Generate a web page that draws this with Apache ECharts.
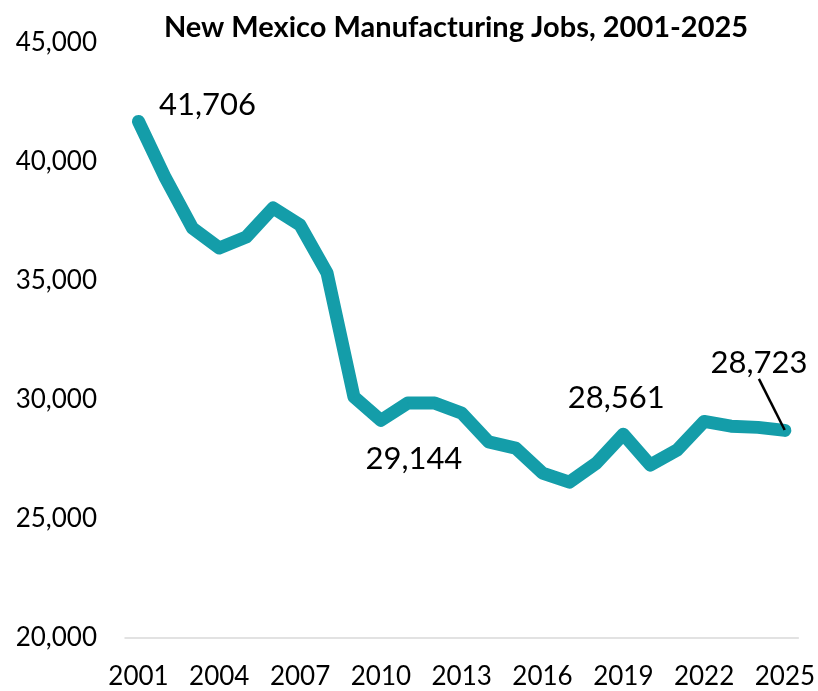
<!DOCTYPE html>
<html>
<head>
<meta charset="utf-8">
<script src="https://cdn.jsdelivr.net/npm/echarts@6/dist/echarts.min.js"></script>
<style>
  html, body { margin: 0; padding: 0; background: #fff; }
  #chart { width: 818px; height: 691px; }
</style>
</head>
<body>
<div id="chart"></div>
<script>
// Annual manufacturing employment, New Mexico
const years = ['2001','2002','2003','2004','2005','2006','2007','2008','2009','2010','2011','2012','2013',
               '2014','2015','2016','2017','2018','2019','2020','2021','2022','2023','2024','2025'];
const jobs = [41706, 39330, 37230, 36390, 36850, 38070, 37350, 35340, 30130, 29144, 29870, 29870, 29450,
              28240, 27980, 26930, 26550, 27350, 28561, 27270, 27900, 29100, 28900, 28850, 28723];
// Years whose values are written on the chart
const labeledYears = ['2001', '2010', '2019', '2025'];
const yTicks = [20000, 25000, 30000, 35000, 40000, 45000];

const fontFamily = 'Lato, "Noto Sans", sans-serif';
const teal = '#149da9';

// label placement relative to each annotated point
const labelShift = {
  '2001': { dx: 69, dy: -16 },
  '2010': { dx: 33, dy: 39 },
  '2019': { dx: -7, dy: -36 },
  '2025': { dx: -26, dy: -67 }
};

const seriesData = years.map((y, i) => {
  const item = { value: jobs[i] };
  if (labeledYears.includes(y)) {
    item.label = { show: true };
    if (y === '2025') item.labelLine = { show: true, lineStyle: { color: '#000', width: 2.5 } };
  }
  return item;
});

const fmt = v => v.toLocaleString('en-US');

const chart = echarts.init(document.getElementById('chart'), null, { renderer: 'canvas' });
chart.setOption({
  animation: false,
  backgroundColor: '#fff',
  title: {
    text: 'New Mexico Manufacturing Jobs, 2001-2025',
    left: 451, top: 8, textAlign: 'center',
    textStyle: { fontFamily, fontWeight: 'bold', fontSize: 29, color: '#000' }
  },
  grid: { left: 125, right: 16, top: 43, bottom: 53 },
  xAxis: {
    type: 'category',
    data: years,
    boundaryGap: true,
    axisLine: { lineStyle: { color: '#d9d9d9', width: 1.5 } },
    axisTick: { show: false },
    axisLabel: { interval: 2, margin: 26, fontFamily, fontSize: 26, color: '#000' },
    splitLine: { show: false }
  },
  yAxis: {
    type: 'value',
    min: yTicks[0],
    max: yTicks[yTicks.length - 1],
    interval: yTicks[1] - yTicks[0],
    axisLine: { show: false },
    axisTick: { show: false },
    splitLine: { show: false },
    axisLabel: { margin: 28, fontFamily, fontSize: 26, color: '#000', formatter: fmt }
  },
  series: [{
    type: 'line',
    data: seriesData,
    symbol: 'circle',
    symbolSize: 1,
    showSymbol: true,
    itemStyle: { color: teal },
    lineStyle: { color: teal, width: 13, cap: 'round', join: 'round' },
    label: {
      show: false,
      position: 'inside',
      fontFamily, fontSize: 31, color: '#000',
      formatter: p => fmt(p.value)
    },
    labelLine: { show: false },
    labelLayout: params => {
      const s = labelShift[years[params.dataIndex]];
      return s ? { dx: s.dx, dy: s.dy } : {};
    }
  }]
});
</script>
</body>
</html>
